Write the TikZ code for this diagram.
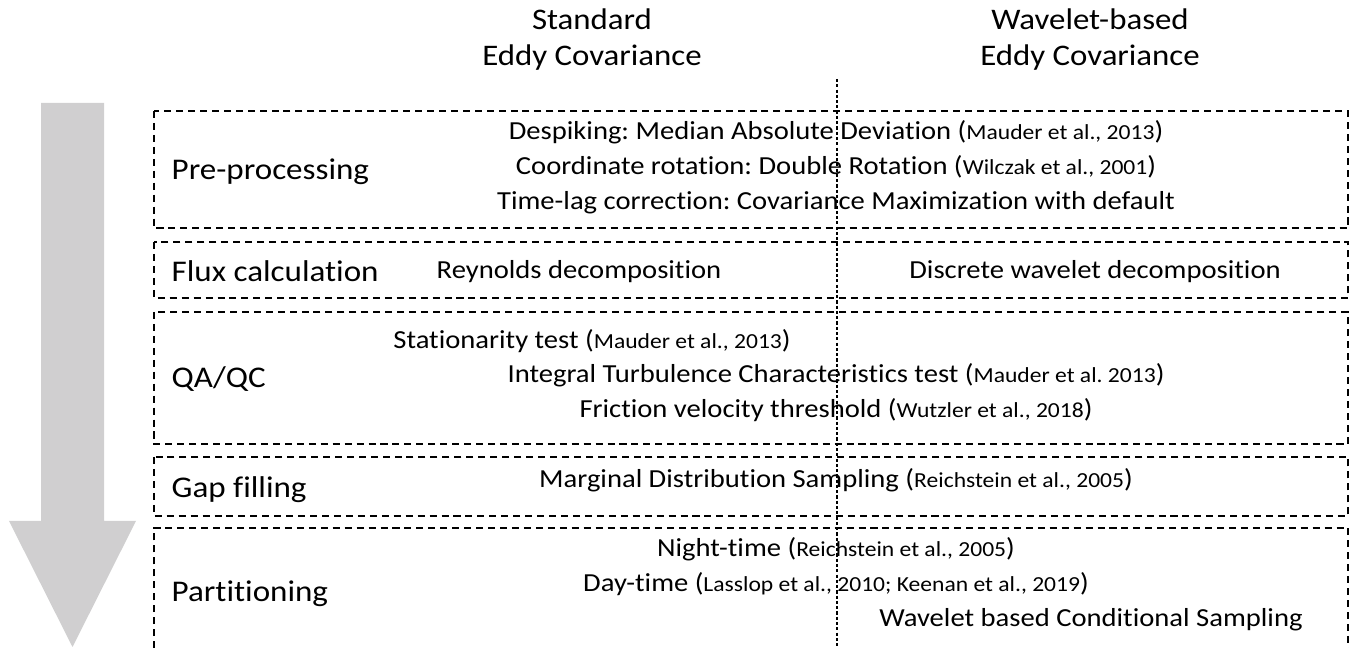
\documentclass[tikz,border=0pt]{standalone}
\usepackage{fontspec}
\setmainfont{Carlito}[FakeStretch=1.1,Ligatures=CommonOff]
\usetikzlibrary{positioning}
\frenchspacing

\definecolor{flowgray}{RGB}{208,207,208}

\tikzstyle{heading} = [inner sep=0pt,anchor=base,font=\fontsize{8.5}{10}\selectfont]
\tikzstyle{stage} = [inner sep=0pt,anchor=base west,font=\fontsize{8.55}{10}\selectfont]
\tikzstyle{method} = [inner sep=0pt,anchor=base,font=\fontsize{7.4}{9}\selectfont]
\tikzstyle{stagebox} = [line width=0.55pt,dash pattern=on 2pt off 1.4pt]
\tikzstyle{divider} = [line width=0.3pt,dash pattern=on 0.9pt off 0.6pt]

\newcommand{\smallref}[1]{({\fontsize{6.1}{7}\selectfont #1})}

\begin{document}
\begin{tikzpicture}
	\useasboundingbox (0,0) rectangle (13.52,6.48);
	\fill[flowgray] (0.41,5.45) -- (1.04,5.45) -- (1.04,1.27) -- (1.36,1.27) -- (0.725,0.01) -- (0.09,1.27) -- (0.41,1.27) -- cycle;
	\node[heading] (std1) at (5.92,6.18) {Standard};
	\node[heading] (std2) at (5.92,5.82) {Eddy Covariance};
	\node[heading] (wav1) at (10.90,6.18) {Wavelet-based};
	\node[heading] (wav2) at (10.90,5.82) {Eddy Covariance};
	\draw[stagebox] (1.54,5.37) rectangle (13.48,4.20);
	\draw[stagebox] (1.54,4.06) rectangle (13.48,3.50);
	\draw[stagebox] (1.54,3.36) rectangle (13.48,2.04);
	\draw[stagebox] (1.54,1.91) rectangle (13.48,1.32);
	\draw[stagebox] (1.54,0) |- (13.48,1.20) -- (13.48,0);
	\draw[divider] (8.37,5.69) -- (8.37,0);
	\node[stage] (pre) at (1.71,4.68) {Pre-processing};
	\node[stage] (flux) at (1.71,3.66) {Flux calculation};
	\node[stage] (qc) at (1.71,2.60) {QA/QC};
	\node[stage] (gap) at (1.71,1.50) {Gap filling};
	\node[stage] (part) at (1.71,0.46) {Partitioning};
	\node[method] (despike) at (8.36,5.08) {Despiking: Median Absolute Deviation \smallref{Mauder et al., 2013}};
	\node[method] (rotate) at (8.36,4.73) {Coordinate rotation: Double Rotation \smallref{Wilczak et al., 2001}};
	\node[method] (lag) at (8.36,4.38) {Time-lag correction: Covariance Maximization with default};
	\node[method] (reynolds) at (5.79,3.69) {Reynolds decomposition};
	\node[method] (dwt) at (10.95,3.69) {Discrete wavelet decomposition};
	\node[method] (stat) at (5.92,2.99) {Stationarity test \smallref{Mauder et al., 2013}};
	\node[method] (itc) at (8.36,2.65) {Integral Turbulence Characteristics test \smallref{Mauder et al. 2013}};
	\node[method] (ustar) at (8.36,2.30) {Friction velocity threshold \smallref{Wutzler et al., 2018}};
	\node[method] (mds) at (8.36,1.60) {Marginal Distribution Sampling \smallref{Reichstein et al., 2005}};
	\node[method] (night) at (8.36,0.91) {Night-time \smallref{Reichstein et al., 2005}};
	\node[method] (day) at (8.36,0.56) {Day-time \smallref{Lasslop et al., 2010; Keenan et al., 2019}};
	\node[method] (wcs) at (10.91,0.21) {Wavelet based Conditional Sampling};
\end{tikzpicture}
\end{document}
